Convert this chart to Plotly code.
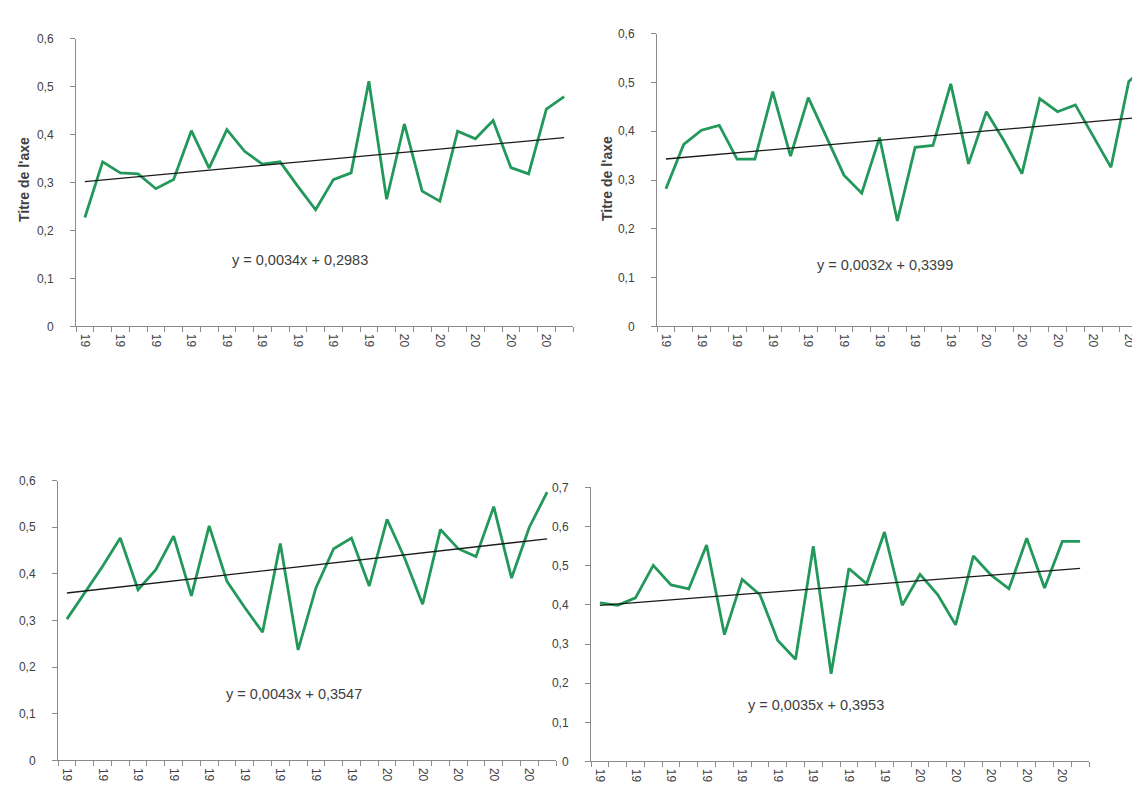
import plotly.graph_objects as go

FIG_W, FIG_H = 1140, 787

# ---- data ----
tick_labels = ["19", "19", "19", "19", "19", "19", "19", "19", "19",
               "20", "20", "20", "20", "20"]

series_1 = [0.227, 0.343, 0.320, 0.318, 0.287, 0.306, 0.408, 0.330, 0.410, 0.365,
            0.338, 0.343, 0.292, 0.243, 0.306, 0.320, 0.511, 0.265, 0.422, 0.282,
            0.261, 0.407, 0.391, 0.429, 0.331, 0.318, 0.453, 0.479]
series_2 = [0.282, 0.373, 0.402, 0.412, 0.343, 0.343, 0.481, 0.349, 0.469, 0.390,
            0.310, 0.273, 0.387, 0.216, 0.367, 0.371, 0.497, 0.333, 0.440, 0.380,
            0.313, 0.467, 0.440, 0.454, 0.390, 0.326, 0.502, 0.534]
series_3 = [0.303, 0.360, 0.416, 0.477, 0.366, 0.409, 0.481, 0.353, 0.503, 0.384,
            0.328, 0.275, 0.465, 0.237, 0.370, 0.454, 0.477, 0.374, 0.517, 0.433,
            0.335, 0.495, 0.454, 0.437, 0.544, 0.391, 0.500, 0.575]
series_4 = [0.405, 0.399, 0.418, 0.501, 0.451, 0.441, 0.553, 0.324, 0.465, 0.426,
            0.309, 0.261, 0.550, 0.224, 0.493, 0.454, 0.586, 0.399, 0.478, 0.426,
            0.349, 0.525, 0.476, 0.441, 0.570, 0.443, 0.562, 0.562]

slopes = [0.0034, 0.0032, 0.0043, 0.0035]
intercepts = [0.2983, 0.3399, 0.3547, 0.3953]
y_max = [0.6, 0.6, 0.6, 0.7]
y_titles = ["Titre de l'axe", "Titre de l'axe", "", ""]

# ---- layout (pixels) ----
panels = [
    dict(l=68, r=565, t=24, b=317, xmax=27.5, eq=(292, 249), title=(16, 168)),
    dict(l=649, r=1140, t=19, b=317, xmax=27.08, eq=(877, 255), title=(599, 167)),
    dict(l=50, r=548, t=474, b=759, xmax=27.5, eq=(286, 691), title=None),
    dict(l=583, r=1081, t=481, b=760, xmax=27.5, eq=(808, 703), title=None),
]

GREEN = "#22995a"
AXIS = "#8a8a8a"
TXT = "#404040"
FONT = "Liberation Sans"

all_series = [series_1, series_2, series_3, series_4]
n = len(series_1)
xs = list(range(n))

fig = go.Figure()
annotations = []

for k, (ser, p) in enumerate(zip(all_series, panels)):
    sfx = "" if k == 0 else str(k + 1)
    trend = [slopes[k] * (i + 1) + intercepts[k] for i in xs]
    fig.add_trace(go.Scatter(x=xs, y=ser, mode="lines",
                             line=dict(color=GREEN, width=2.8),
                             xaxis="x" + sfx, yaxis="y" + sfx, showlegend=False,
                             hoverinfo="skip"))
    fig.add_trace(go.Scatter(x=xs, y=trend, mode="lines",
                             line=dict(color="#1a1a1a", width=1.3),
                             xaxis="x" + sfx, yaxis="y" + sfx, showlegend=False,
                             hoverinfo="skip"))

    xd = [p["l"] / FIG_W, p["r"] / FIG_W]
    yd = [1 - p["b"] / FIG_H, 1 - p["t"] / FIG_H]
    fig.update_layout(**{
        "xaxis" + sfx: dict(
            domain=xd, anchor="y" + sfx, range=[-0.5, p["xmax"]],
            tickmode="array", tickvals=xs[::2], ticktext=tick_labels,
            tickangle=90, ticks="", showgrid=False, zeroline=False,
            showline=True, linecolor=AXIS, linewidth=1,
            ticklabelstandoff=4,
            tickfont=dict(family=FONT, size=12, color=TXT),
            minor=dict(tickmode="array",
                       tickvals=[i - 0.5 for i in range(n + 1)],
                       ticks="outside", ticklen=5, tickcolor=AXIS, showgrid=False),
        ),
        "yaxis" + sfx: dict(
            domain=yd, anchor="x" + sfx, range=[0, y_max[k]], dtick=0.1,
            ticks="outside", ticklen=5, tickcolor=AXIS, showgrid=False,
            zeroline=False, showline=True, linecolor=AXIS, linewidth=1,
            ticklabelstandoff=14,
            tickfont=dict(family=FONT, size=12, color=TXT),
        ),
    })

    eq_text = "y = {:.4f}x + {:.4f}".format(slopes[k], intercepts[k]).replace(".", ",")
    annotations.append(dict(text=eq_text, xref="paper", yref="paper",
                            x=p["eq"][0] / FIG_W, y=1 - p["eq"][1] / FIG_H,
                            xanchor="center", yanchor="middle", showarrow=False,
                            font=dict(family=FONT, size=14.5, color=TXT)))
    if y_titles[k] and p["title"]:
        annotations.append(dict(text="<b>" + y_titles[k] + "</b>",
                                xref="paper", yref="paper",
                                x=p["title"][0] / FIG_W, y=1 - p["title"][1] / FIG_H,
                                xanchor="center", yanchor="middle", textangle=-90,
                                showarrow=False,
                                font=dict(family=FONT, size=14, color=TXT)))

fig.update_layout(
    width=FIG_W, height=FIG_H,
    margin=dict(l=0, r=0, t=0, b=0),
    paper_bgcolor="white", plot_bgcolor="white",
    separators=", ",
    annotations=annotations,
    showlegend=False,
)

fig.write_html("out.html")
